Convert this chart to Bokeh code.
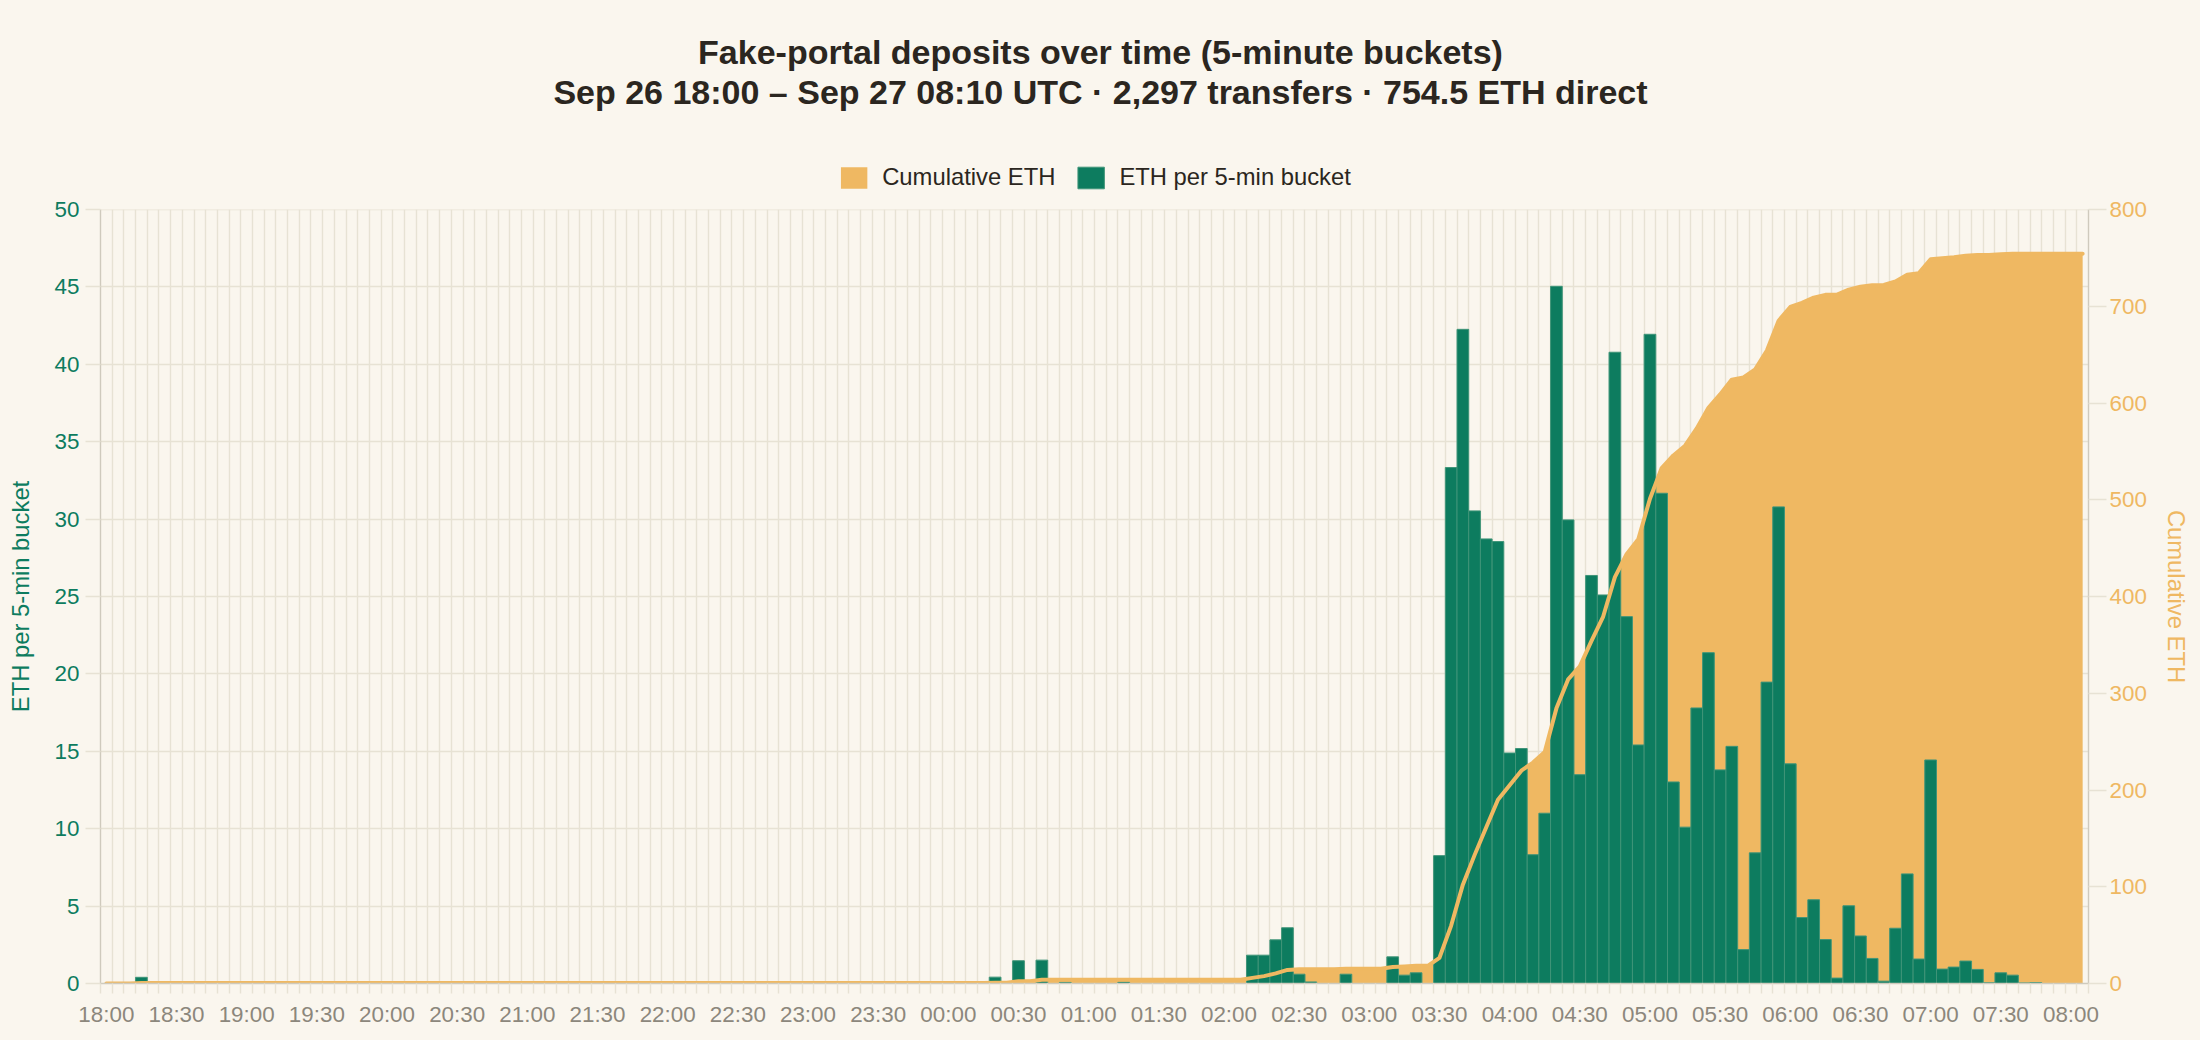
import numpy as np
from bokeh.plotting import figure
from bokeh.layouts import column
from bokeh.models import (Range1d, LinearAxis, FixedTicker, Label, Legend, LegendItem)
from bokeh.embed import file_html
from bokeh.resources import INLINE

# ---------------- data ----------------
title_line1 = "Fake-portal deposits over time (5-minute buckets)"
title_line2 = "Sep 26 18:00 \u2013 Sep 27 08:10 UTC \u00b7 2,297 transfers \u00b7 754.5 ETH direct"

series_names = ["Cumulative ETH", "ETH per 5-min bucket"]
left_axis_title = "ETH per 5-min bucket"
right_axis_title = "Cumulative ETH"

tick_labels = ["18:00", "18:30", "19:00", "19:30", "20:00", "20:30", "21:00", "21:30",
               "22:00", "22:30", "23:00", "23:30", "00:00", "00:30", "01:00", "01:30",
               "02:00", "02:30", "03:00", "03:30", "04:00", "04:30", "05:00", "05:30",
               "06:00", "06:30", "07:00", "07:30", "08:00"]

# ETH per 5-minute bucket, 18:00 ... 08:05 (170 buckets)
eth_per_bucket = [
    0, 0, 0, 0.4, 0, 0, 0, 0, 0, 0,                 # 18:00-18:45
    0, 0, 0, 0, 0, 0, 0, 0, 0, 0,                   # 18:50-19:35
    0, 0, 0, 0, 0, 0, 0, 0, 0, 0,                   # 19:40-20:25
    0, 0, 0, 0, 0, 0, 0, 0, 0, 0,                   # 20:30-21:15
    0, 0, 0, 0, 0, 0, 0, 0, 0, 0,                   # 21:20-22:05
    0, 0, 0, 0, 0, 0, 0, 0, 0, 0,                   # 22:10-22:55
    0, 0, 0, 0, 0, 0, 0, 0, 0, 0,                   # 23:00-23:45
    0, 0, 0, 0, 0, 0, 0.41, 0, 1.47, 0,             # 23:50-00:35
    1.51, 0, 0.08, 0, 0, 0, 0, 0.1, 0, 0,           # 00:40-01:25
    0, 0, 0, 0, 0, 0, 0, 0, 1.83, 1.83,             # 01:30-02:15
    2.82, 3.6, 0.6, 0.1, 0, 0, 0.6, 0, 0, 0,        # 02:20-03:05
    1.72, 0.54, 0.69, 0, 8.26, 33.33, 42.26, 30.53, 28.72, 28.55,   # 03:10-03:55
    14.89, 15.18, 8.32, 11.0, 45.04, 29.95, 13.49, 26.36, 25.1, 40.78,  # 04:00-04:45
    23.7, 15.41, 41.94, 31.67, 13.02, 10.1, 17.8, 21.37, 13.8, 15.32,  # 04:50-05:35
    2.19, 8.44, 19.47, 30.79, 14.19, 4.26, 5.41, 2.84, 0.35, 5.02,     # 05:40-06:25
    3.07, 1.62, 0.15, 3.57, 7.08, 1.58, 14.44, 0.93, 1.06, 1.45,       # 06:30-07:15
    0.91, 0.05, 0.69, 0.54, 0.04, 0.06, 0, 0, 0, 0,                    # 07:20-08:05
]

left_ticks = [0, 5, 10, 15, 20, 25, 30, 35, 40, 45, 50]
right_ticks = [0, 100, 200, 300, 400, 500, 600, 700, 800]

# ---------------- style ----------------
BG = "#faf6ee"
GRID = "#e7e2d4"
AXIS = "#cfcabd"
GREEN = "#0d7c5f"
ORANGE = "#efb862"
BAR_EDGE = "#3f9478"
TITLE_C = "#2b2620"
XLAB = "#8c877c"
FONT = "Liberation Sans"

n = len(eth_per_bucket)
xs = np.arange(n)
cum = np.cumsum(eth_per_bucket)

W = 2200
HDR_H = 197
MAIN_H = 1040 - HDR_H
ML, MR = 100, 112

# ---------------- header (titles + legend) ----------------
hdr = figure(width=W, height=HDR_H, output_backend="svg", toolbar_location=None,
             x_range=Range1d(0, 1), y_range=Range1d(0, 1),
             x_axis_type=None, y_axis_type=None, min_border=0,
             min_border_left=ML, min_border_right=MR, title_location=None)
hdr.background_fill_color = BG
hdr.border_fill_color = BG
hdr.outline_line_color = None
# legend swatches (kept outside the visible range of the header)
leg_area = hdr.varea(x=[-10, -9], y1=[0, 0], y2=[0, 0], fill_color=ORANGE)
leg_bar = hdr.vbar(x=[-10], top=[0], width=1, fill_color=GREEN,
                   line_color=BAR_EDGE, line_width=1)

for txt, mid in [(title_line1, 51), (title_line2, 91)]:
    hdr.add_layout(Label(x=W / 2 - ML, y=HDR_H - mid, x_units="screen", y_units="screen",
                         text=txt, text_align="center", text_baseline="middle",
                         text_font=FONT, text_font_size="34px", text_font_style="bold",
                         text_color=TITLE_C))

legend = Legend(items=[LegendItem(label=series_names[0], renderers=[leg_area]),
                       LegendItem(label=series_names[1], renderers=[leg_bar])],
                orientation="horizontal", location="bottom_center",
                glyph_width=33, glyph_height=27, label_standoff=12, spacing=19,
                padding=0, margin=6,
                label_text_font=FONT, label_text_font_size="23.8px",
                label_text_color=TITLE_C,
                background_fill_alpha=0, border_line_alpha=0)
hdr.add_layout(legend, "center")

# ---------------- main chart ----------------
p = figure(width=W, height=MAIN_H, output_backend="svg", toolbar_location=None,
           x_range=Range1d(-0.5, n - 0.5), y_range=Range1d(0, 50.001),
           min_border_left=ML, min_border_right=MR, min_border_top=12, min_border_bottom=57,
           title_location=None)
p.background_fill_color = BG
p.border_fill_color = BG
p.outline_line_color = None
p.extra_y_ranges = {"cum": Range1d(0, 800.016)}

# grids
p.ygrid.ticker = FixedTicker(ticks=left_ticks)
p.ygrid.grid_line_color = GRID
p.ygrid.grid_line_width = 1.4
p.xgrid.ticker = FixedTicker(ticks=[i - 0.5 for i in range(n + 1)])
p.xgrid.grid_line_color = GRID
p.xgrid.grid_line_width = 1.4

# glyphs
area = p.varea(x=xs, y1=np.zeros(n), y2=cum, fill_color=ORANGE, y_range_name="cum")
bars = p.vbar(x=xs, top=eth_per_bucket, width=1.0, bottom=0,
              fill_color=GREEN, line_color=BAR_EDGE, line_width=1)
p.line(x=xs, y=cum, line_color=ORANGE, line_width=4, y_range_name="cum",
       line_join="round", line_cap="round")

# x axis
xa = p.xaxis[0]
xa.ticker = FixedTicker(ticks=[6 * i for i in range(len(tick_labels))],
                        minor_ticks=[i - 0.5 for i in range(n + 1)])
xa.major_label_overrides = {6 * i: t for i, t in enumerate(tick_labels)}
xa.major_tick_line_color = None
xa.major_tick_out = 0
xa.major_tick_in = 0
xa.minor_tick_line_color = GRID
xa.minor_tick_line_width = 1.4
xa.minor_tick_out = 10
xa.minor_tick_in = 0
xa.axis_line_color = AXIS
xa.axis_line_width = 1.4
xa.major_label_text_color = XLAB
xa.major_label_text_font = FONT
xa.major_label_text_font_size = "22.4px"
xa.major_label_text_line_height = 1.0
xa.major_label_standoff = 8

# left axis
ya = p.yaxis[0]
ya.ticker = FixedTicker(ticks=left_ticks)
ya.axis_line_color = AXIS
ya.axis_line_width = 1.4
ya.major_tick_line_color = GRID
ya.major_tick_line_width = 1.4
ya.major_tick_out = 15
ya.major_tick_in = 0
ya.minor_tick_line_color = None
ya.major_label_text_color = GREEN
ya.major_label_text_font = FONT
ya.major_label_text_font_size = "22.4px"
ya.major_label_standoff = 6
ya.axis_label = left_axis_title
ya.axis_label_text_color = GREEN
ya.axis_label_text_font = FONT
ya.axis_label_text_font_style = "normal"
ya.axis_label_text_font_size = "23.8px"
ya.axis_label_standoff = 18

# right axis
ra = LinearAxis(y_range_name="cum", ticker=FixedTicker(ticks=right_ticks))
ra.axis_line_color = AXIS
ra.axis_line_width = 1.4
ra.major_tick_line_color = GRID
ra.major_tick_line_width = 1.4
ra.major_tick_out = 18
ra.major_tick_in = 0
ra.minor_tick_line_color = None
ra.major_label_text_color = ORANGE
ra.major_label_text_font = FONT
ra.major_label_text_font_size = "22.4px"
ra.major_label_standoff = 3
ra.axis_label = right_axis_title
ra.axis_label_text_color = ORANGE
ra.axis_label_text_font = FONT
ra.axis_label_text_font_style = "normal"
ra.axis_label_text_font_size = "23.8px"
ra.axis_label_standoff = 13
p.add_layout(ra, "right")

layout = column(hdr, p, spacing=0)
layout.background = BG

html = file_html(layout, INLINE)
html = html.replace("<head>",
                    "<head><style>html,body{margin:0;padding:0;overflow:hidden;background:%s;}</style>" % BG, 1)
open("out.html", "w").write(html)
